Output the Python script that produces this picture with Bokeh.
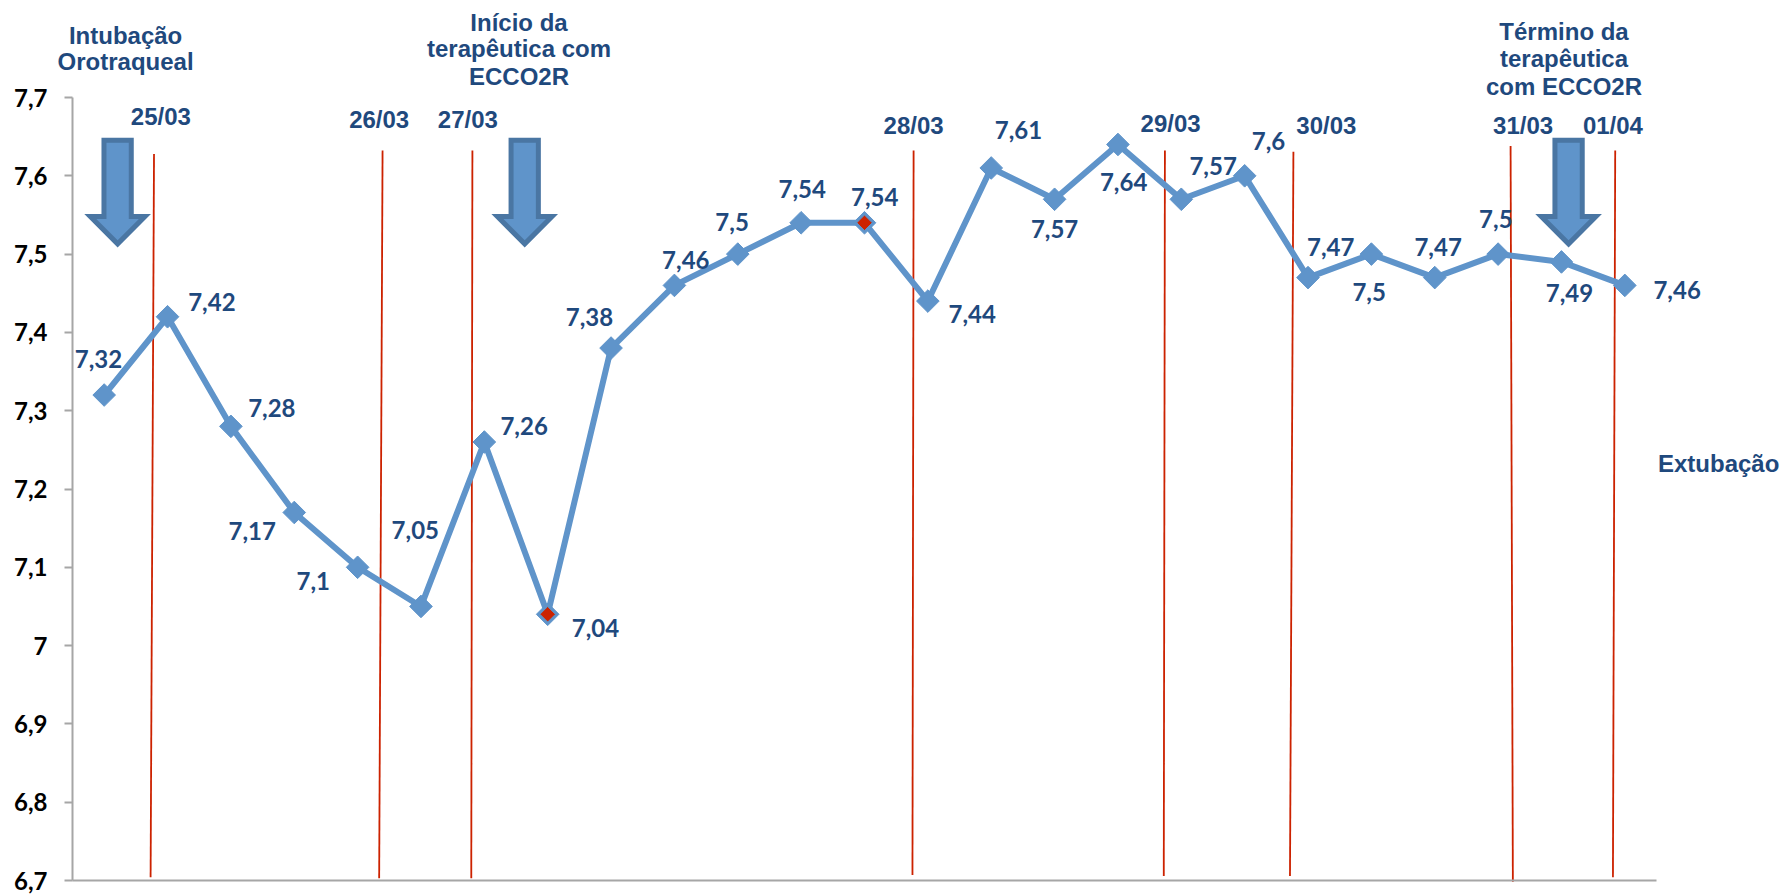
import math

from bokeh.core.properties import value
from bokeh.embed import file_html
from bokeh.resources import INLINE
from bokeh.plotting import figure
from bokeh.models import ColumnDataSource, LabelSet, FixedTicker, Range1d

# ---- data
values = [7.32, 7.42, 7.28, 7.17, 7.1, 7.05, 7.26, 7.04, 7.38, 7.46, 7.5, 7.54, 7.54,
          7.44, 7.61, 7.57, 7.64, 7.57, 7.6, 7.47, 7.5, 7.47, 7.5, 7.49, 7.46]
value_labels = ["7,32", "7,42", "7,28", "7,17", "7,1", "7,05", "7,26", "7,04", "7,38", "7,46", "7,5", "7,54", "7,54",
                "7,44", "7,61", "7,57", "7,64", "7,57", "7,6", "7,47", "7,5", "7,47", "7,5", "7,49", "7,46"]
red_points = [7, 12]
y_ticks = [6.7, 6.8, 6.9, 7.0, 7.1, 7.2, 7.3, 7.4, 7.5, 7.6, 7.7]
y_tick_labels = ["6,7", "6,8", "6,9", "7", "7,1", "7,2", "7,3", "7,4", "7,5", "7,6", "7,7"]

date_labels = ["25/03", "26/03", "27/03", "28/03", "29/03", "30/03", "31/03", "01/04"]

# ---- layout (pixels on the page)
W, H = 1783, 895
LEFT, RIGHT, TOP, BOTTOM = 72, 1656, 97, 880
K = 1783 / 1568          # reference sketch units -> page pixels


def data_x(page_x):
    return -0.5 + (page_x - LEFT) / (RIGHT - LEFT) * 25


def data_y(page_y):
    return 6.7 + (BOTTOM - page_y) / (BOTTOM - TOP)


# label offsets from their points
label_dx = [-5, 39, 36, -37, -39, -5, 35, 42, -19, 10, -5, 1, 9, 39, 24, 0, 5, 28, 21, 20, -2, 3, -2, 7, 46]
label_dy = [-32, -13, -16, 16, 12, -67, -14, 12, -27, -22, -28, -30, -23, 11, -33, 26, 33, -29, -31, -27, 33, -27, -31, 27, 4]

# vertical markers: top x, top y, bottom x, bottom y
line_tx = [135, 336, 415, 803, 1024, 1137, 1328, 1420]
line_ty = [135, 132, 132, 132, 132, 133, 128, 132]
line_bx = [132, 333, 414, 802, 1023, 1134, 1330, 1418]
line_by = [771, 772, 772, 769, 770, 770, 775, 771]
date_x = [141, 333, 411, 803, 1029, 1166, 1339, 1418]
date_y = [102, 105, 105, 110, 108, 110, 110, 110]

arrow_x = [103, 461, 1379]

note_texts = ["Intubação", "Orotraqueal", "Início da", "terapêutica com", "ECCO2R",
              "Término da", "terapêutica", "com ECCO2R", "Extubação"]
note_x = [110, 110, 456, 456, 456, 1375, 1375, 1375, 1511]
note_y = [31, 54, 19, 42, 67, 27, 51, 76, 407]

NAVY = "#1F497D"
BLUE = "#5F94CA"
RED = "#CC2200"
GREY = "#A6A6A6"

p = figure(width=W, height=H, output_backend="svg", toolbar_location=None,
           x_range=Range1d(data_x(0), data_x(W)), y_range=Range1d(data_y(H), data_y(0)),
           min_border=0, background_fill_color="white", border_fill_color="white")
p.outline_line_color = None
p.grid.visible = False

p.xaxis.ticker = FixedTicker(ticks=[])
p.xaxis.fixed_location = 6.7
p.xaxis.bounds = (-0.5, 24.5)
p.xaxis.axis_line_color = GREY
p.xaxis.axis_line_width = 2

p.yaxis.ticker = FixedTicker(ticks=y_ticks)
p.yaxis.fixed_location = -0.5
p.yaxis.bounds = (6.7, 7.7)
p.yaxis.major_label_overrides = dict(zip(y_ticks, y_tick_labels))
p.yaxis.minor_tick_line_color = None
p.yaxis.major_tick_out = 8
p.yaxis.major_tick_in = 0
p.yaxis.major_tick_line_color = GREY
p.yaxis.major_tick_line_width = 2
p.yaxis.axis_line_color = GREY
p.yaxis.axis_line_width = 2
p.yaxis.major_label_text_font = "Lato"
p.yaxis.major_label_text_font_style = "bold"
p.yaxis.major_label_text_font_size = "24px"
p.yaxis.major_label_text_color = "black"
p.yaxis.major_label_standoff = 17

# red vertical markers
p.segment([data_x(v * K) for v in line_tx], [data_y(v * K) for v in line_ty],
          [data_x(v * K) for v in line_bx], [data_y(v * K) for v in line_by],
          line_color=RED, line_width=1.8)

# arrows
SHAFT, HEAD = 12, 24
arrow_xs, arrow_ys = [], []
for c in arrow_x:
    xs = [c - SHAFT, c + SHAFT, c + SHAFT, c + HEAD, c, c - HEAD, c - SHAFT]
    ys = [123, 123, 190, 190, 214, 190, 190]
    arrow_xs.append([data_x(v * K) for v in xs])
    arrow_ys.append([data_y(v * K) for v in ys])
p.patches(arrow_xs, arrow_ys, fill_color=BLUE, line_color="#4A76A3", line_width=5, line_join="miter")

# series
xs = list(range(len(values)))
p.line(xs, values, line_color=BLUE, line_width=6, line_join="round")
p.scatter(xs, values, marker="square", size=16, angle=math.pi / 4, fill_color=BLUE, line_color=BLUE)
p.scatter(red_points, [values[i] for i in red_points], marker="square", size=11, angle=math.pi / 4,
          fill_color=RED, line_color=BLUE, line_width=1)


def text_layer(src, **kw):
    p.add_layout(LabelSet(x="x", y="y", text="t", source=src, text_color=NAVY,
                          text_align="center", text_baseline="middle",
                          text_font_style=value("bold"), **kw))


source = ColumnDataSource(dict(x=xs, y=values, t=value_labels,
                               dx=[v * K for v in label_dx], dy=[-v * K for v in label_dy]))
text_layer(source, x_offset="dx", y_offset="dy", text_font=value("Lato"), text_font_size=value("24px"))

date_source = ColumnDataSource(dict(x=[data_x(v * K) for v in date_x], y=[data_y(v * K) for v in date_y], t=date_labels))
text_layer(date_source, text_font=value("Liberation Sans"), text_font_size=value("24px"))

note_source = ColumnDataSource(dict(x=[data_x(v * K) for v in note_x], y=[data_y(v * K) for v in note_y], t=note_texts))
text_layer(note_source, text_font=value("Liberation Sans"), text_font_size=value("24px"))

open("out.html", "w").write(file_html(p, INLINE))
